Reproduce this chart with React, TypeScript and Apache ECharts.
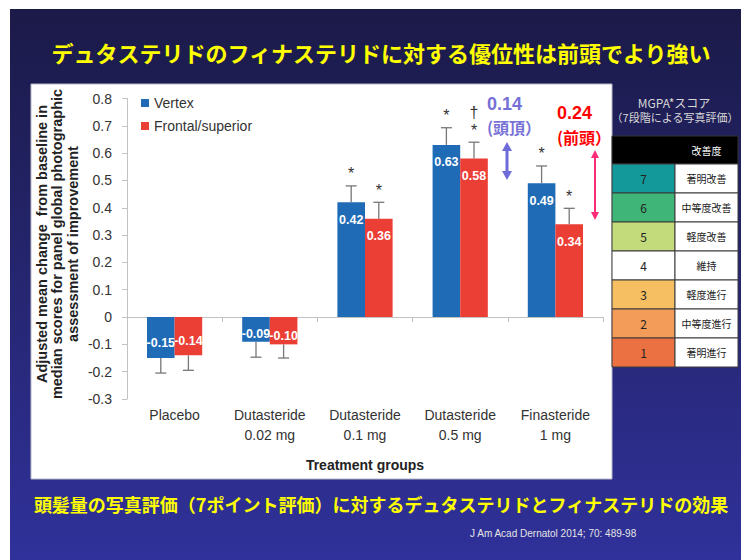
import React, { useEffect, useRef } from 'react';
import * as echarts from 'echarts';

// ---------- data ----------
const categories = ['Placebo', 'Dutasteride\n0.02 mg', 'Dutasteride\n0.1 mg', 'Dutasteride\n0.5 mg', 'Finasteride\n1 mg'];
const seriesNames = ['Vertex', 'Frontal/superior'];
const vertex = [-0.15, -0.09, 0.42, 0.63, 0.49];
const frontal = [-0.14, -0.1, 0.36, 0.58, 0.34];
const vertexErrEnd = [-0.205, -0.147, 0.48, 0.693, 0.553];
const frontalErrEnd = [-0.195, -0.15, 0.42, 0.64, 0.398];
const vertexSig = ['', '', '*', '*', '*'];
const frontalSig = ['', '', '*', '†\n*', '*'];
const yMin = -0.3;
const yMax = 0.8;
const yStep = 0.1;

const mgpaScores = ['7', '6', '5', '4', '3', '2', '1'];
const mgpaLabels = ['著明改善', '中等度改善', '軽度改善', '維持', '軽度進行', '中等度進行', '著明進行'];
const mgpaColors = ['#14999a', '#3fb578', '#c3db7b', '#ffffff', '#f6c062', '#f39b58', '#ec7142'];

const titleText = 'デュタステリドのフィナステリドに対する優位性は前頭でより強い';
const subtitleText = '頭髪量の写真評価（7ポイント評価）に対するデュタステリドとフィナステリドの効果';
const citationText = 'J Am Acad Dernatol 2014; 70: 489-98';
const yAxisNameLines = ['Adjusted mean change  from baseline in', 'median scores for panel global photographic', 'assessment of improvement'];

// ---------- styles ----------
const BLUE = '#1f6bb6';
const RED = '#eb3e35';
const LAT = 'Liberation Sans, Arial, sans-serif';
const CJK = 'Noto Sans CJK JP, sans-serif';
const BAR_RATIO = 0.29;

function errSeries(vals: number[], ends: number[], sig: string[], sign: number) {
  return {
    type: 'custom',
    xAxisIndex: 0,
    yAxisIndex: 0,
    z: 5,
    silent: true,
    data: vals.map((v, i) => [i, v, ends[i]]),
    renderItem: (params: any, api: any) => {
      const i = api.value(0);
      const v = api.value(1);
      const e = api.value(2);
      const band = api.size([1, 0])[0];
      const p0 = api.coord([i, v]);
      const p1 = api.coord([i, e]);
      const x = p0[0] + (sign * band * BAR_RATIO) / 2;
      const st = { stroke: '#777777', lineWidth: 1.3 };
      const children: any[] = [
        { type: 'line', shape: { x1: x, y1: p0[1], x2: x, y2: p1[1] }, style: st },
        { type: 'line', shape: { x1: x - 5.5, y1: p1[1], x2: x + 5.5, y2: p1[1] }, style: st },
      ];
      const s = sig[params.dataIndex];
      if (s) {
        children.push({
          type: 'text',
          x,
          y: p1[1] - 3,
          style: {
            text: s,
            align: 'center',
            verticalAlign: 'bottom',
            fontSize: 16,
            lineHeight: 18,
            fontFamily: LAT,
            fill: '#333',
          },
        });
      }
      return { type: 'group', children };
    },
  };
}

function barData(vals: number[]) {
  return vals.map((v) => ({
    value: v,
    label: v >= 0 ? { position: 'insideTop', distance: 11 } : { position: 'inside', offset: [0, 5] },
  }));
}

function arrow(x: number, y1: number, y2: number, color: string, lw: number, hw: number, hh: number) {
  return [
    { type: 'line', z: 100, shape: { x1: x, y1: y1 + hh - 1, x2: x, y2: y2 - hh + 1 }, style: { stroke: color, lineWidth: lw } },
    { type: 'polygon', z: 100, shape: { points: [[x, y1], [x - hw / 2, y1 + hh], [x + hw / 2, y1 + hh]] }, style: { fill: color } },
    { type: 'polygon', z: 100, shape: { points: [[x, y2], [x - hw / 2, y2 - hh], [x + hw / 2, y2 - hh]] }, style: { fill: color } },
  ];
}

function tableGraphics() {
  const x0 = 612, xm = 675, x1 = 738, yh = 136, hh = 28, rh = 29;
  const els: any[] = [
    { type: 'rect', z: 50, shape: { x: x0, y: yh, width: x1 - x0, height: hh }, style: { fill: '#000', stroke: '#333' } },
    { type: 'text', z: 51, x: (xm + x1) / 2, y: yh + hh / 2, style: { text: '改善度', fill: '#fff', fontSize: 10, fontFamily: CJK, align: 'center', verticalAlign: 'middle' } },
    { type: 'text', z: 51, x: 674, y: 102, style: { text: 'MGPA*スコア', fill: '#d6d6d6', fontSize: 12, fontFamily: CJK, align: 'center', verticalAlign: 'middle' } },
    { type: 'text', z: 51, x: 675, y: 117, style: { text: '（7段階による写真評価）', fill: '#d6d6d6', fontSize: 11, fontFamily: CJK, align: 'center', verticalAlign: 'middle' } },
  ];
  mgpaScores.forEach((s, i) => {
    const y = yh + hh + i * rh;
    els.push({ type: 'rect', z: 50, shape: { x: x0, y, width: xm - x0, height: rh }, style: { fill: mgpaColors[i], stroke: '#3a3a3a', lineWidth: 1 } });
    els.push({ type: 'rect', z: 50, shape: { x: xm, y, width: x1 - xm, height: rh }, style: { fill: '#fff', stroke: '#3a3a3a', lineWidth: 1 } });
    els.push({ type: 'text', z: 51, x: (x0 + xm) / 2, y: y + rh / 2, style: { text: s, fill: '#222', fontSize: 12, fontFamily: CJK, align: 'center', verticalAlign: 'middle' } });
    els.push({ type: 'text', z: 51, x: (xm + x1) / 2, y: y + rh / 2, style: { text: mgpaLabels[i], fill: '#222', fontSize: 10, fontFamily: CJK, align: 'center', verticalAlign: 'middle' } });
  });
  return els;
}

const option: any = {
  animation: false,
  backgroundColor: '#ffffff',
  textStyle: { fontFamily: LAT },
  grid: { left: 127, right: 138, top: 98.5, bottom: 161 },
  legend: {
    data: seriesNames,
    orient: 'vertical',
    left: 141,
    top: 96,
    icon: 'rect',
    itemWidth: 8,
    itemHeight: 8,
    itemGap: 9,
    padding: 0,
    textStyle: { fontSize: 14, color: '#333', fontFamily: LAT },
  },
  xAxis: [
    {
      type: 'category',
      data: categories,
      position: 'bottom',
      axisLine: { show: false, onZero: false },
      axisTick: { show: false },
      axisLabel: { interval: 0, margin: 6, fontSize: 14, lineHeight: 20, color: '#333', fontFamily: LAT },
      name: 'Treatment groups',
      nameLocation: 'middle',
      nameGap: 59,
      nameTextStyle: { fontWeight: 'bold', fontSize: 14, color: '#222', fontFamily: LAT },
    },
    {
      type: 'category',
      data: categories,
      position: 'bottom',
      axisLine: { show: true, onZero: true, lineStyle: { color: '#c2c2c2', width: 1 } },
      axisTick: { show: true, length: 5, lineStyle: { color: '#c2c2c2' } },
      axisLabel: { show: false },
    },
  ],
  yAxis: {
    type: 'value',
    min: yMin,
    max: yMax,
    interval: yStep,
    axisLine: { show: true, lineStyle: { color: '#c2c2c2' } },
    axisTick: { show: true, length: 5, lineStyle: { color: '#c2c2c2' } },
    splitLine: { show: false },
    axisLabel: {
      fontSize: 14,
      color: '#333',
      margin: 15,
      fontFamily: LAT,
      formatter: (v: number) => (Math.abs(v) < 1e-9 ? '0' : v.toFixed(1)),
    },
  },
  series: [
    {
      name: seriesNames[0],
      type: 'bar',
      data: barData(vertex),
      barWidth: `${BAR_RATIO * 100}%`,
      barGap: '0%',
      itemStyle: { color: BLUE },
      label: { show: true, color: '#fff', fontWeight: 'bold', fontSize: 12.5, fontFamily: LAT, formatter: (p: any) => Number(p.value).toFixed(2) },
    },
    {
      name: seriesNames[1],
      type: 'bar',
      data: barData(frontal),
      barWidth: `${BAR_RATIO * 100}%`,
      barGap: '0%',
      itemStyle: { color: RED },
      label: { show: true, color: '#fff', fontWeight: 'bold', fontSize: 12.5, fontFamily: LAT, formatter: (p: any) => Number(p.value).toFixed(2) },
    },
    errSeries(vertex, vertexErrEnd, vertexSig, -1),
    errSeries(frontal, frontalErrEnd, frontalSig, 1),
  ],
  graphic: [
    {
      type: 'rect',
      z: -10,
      shape: { x: 10, y: 9, width: 731, height: 551 },
      style: {
        fill: {
          type: 'linear', x: 0, y: 0, x2: 0, y2: 1,
          colorStops: [
            { offset: 0, color: '#1b1a48' },
            { offset: 1, color: '#30319a' },
          ],
        },
      },
    },
    { type: 'rect', z: -9, shape: { x: 31, y: 84, width: 581, height: 395 }, style: { fill: '#fff', stroke: '#b8b8c8', lineWidth: 1 } },
    { type: 'text', z: 20, x: 381, y: 52, style: { text: titleText, fill: '#ffff00', fontSize: 22, fontWeight: 'bold', fontFamily: CJK, align: 'center', verticalAlign: 'middle' } },
    { type: 'text', z: 20, x: 381, y: 504, style: { text: subtitleText, fill: '#ffff00', fontSize: 18, fontWeight: 'bold', fontFamily: CJK, align: 'center', verticalAlign: 'middle' } },
    { type: 'text', z: 20, x: 470, y: 533, style: { text: citationText, fill: '#e4e4e4', fontSize: 10, fontFamily: LAT, align: 'left', verticalAlign: 'middle' } },
    {
      type: 'text', z: 20, x: 57, y: 244, rotation: Math.PI / 2,
      style: { text: yAxisNameLines.join('\n'), fill: '#222', fontSize: 14.5, lineHeight: 15.5, fontWeight: 'bold', fontFamily: LAT, align: 'center', verticalAlign: 'middle' },
    },
    { type: 'text', z: 100, x: 487, y: 104, style: { text: '0.14', fill: '#7670d6', fontSize: 18, fontWeight: 'bold', fontFamily: LAT, align: 'left', verticalAlign: 'middle' } },
    { type: 'text', z: 100, x: 487, y: 127, style: { text: '(頭頂）', fill: '#7670d6', fontSize: 16, fontWeight: 'bold', fontFamily: CJK, align: 'left', verticalAlign: 'middle' } },
    { type: 'text', z: 100, x: 557, y: 113, style: { text: '0.24', fill: '#ff0000', fontSize: 18, fontWeight: 'bold', fontFamily: LAT, align: 'left', verticalAlign: 'middle' } },
    { type: 'text', z: 100, x: 557, y: 137, style: { text: '(前頭）', fill: '#ff0000', fontSize: 16, fontWeight: 'bold', fontFamily: CJK, align: 'left', verticalAlign: 'middle' } },
    ...arrow(507, 142, 180, '#6e6cd8', 3, 10, 9),
    ...arrow(595, 150, 220, '#ff2a78', 2, 8, 8),
    ...tableGraphics(),
  ],
};

export default function App() {
  const ref = useRef<HTMLDivElement>(null);
  useEffect(() => {
    const chart = echarts.init(ref.current as HTMLDivElement, undefined, { renderer: 'svg' });
    chart.setOption(option);
    return () => chart.dispose();
  }, []);
  return <div ref={ref} style={{ position: 'absolute', left: 0, top: 0, width: 741, height: 560 }} />;
}
